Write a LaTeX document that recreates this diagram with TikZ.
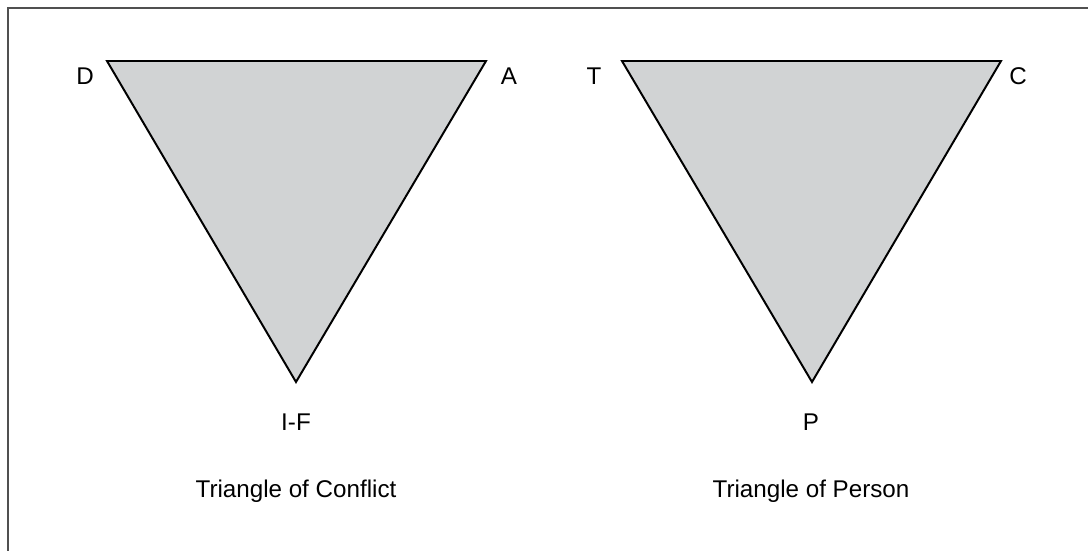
\documentclass[tikz,border=0pt]{standalone}
\usepackage{fontspec}
\setmainfont{Liberation Sans}
\begin{document}
\begin{tikzpicture}[x=0.025cm, y=-0.025cm, font=\fontsize{17.2}{20}\selectfont]
	% Farben
	\definecolor{trigray}{RGB}{209, 211, 212}
	\definecolor{framegray}{RGB}{80, 80, 80}
	
	% Stile
	\tikzset{
		tri/.style={fill=trigray, draw=black, line width=1.4pt, line join=miter},
		lbl/.style={anchor=base, inner sep=0pt},
	}
	
	% Bildgröße
	\useasboundingbox (0,0) rectangle (1088,551);
	
	% Rahmen (nur oben und links)
	\draw[framegray, line width=1.4pt] (1088,8) -- (8,8) -- (8,551);
	
	% Ecken der Dreiecke
	\coordinate (D) at (107,61);
	\coordinate (A) at (486,61);
	\coordinate (IF) at (296,382);
	\coordinate (T) at (622,61);
	\coordinate (C) at (1001,61);
	\coordinate (P) at (812,382);
	
	% Dreiecke
	\draw[tri] (D) -- (A) -- (IF) -- cycle;
	\draw[tri] (T) -- (C) -- (P) -- cycle;
	
	% Beschriftung der Ecken
	\node[lbl] (lD) at (85,85) {D};
	\node[lbl] (lA) at (509,85) {A};
	\node[lbl] (lIF) at (296,431) {I-F};
	\node[lbl] (lT) at (594,85) {T};
	\node[lbl] (lC) at (1018,85) {C};
	\node[lbl] (lP) at (811,431) {P};
	
	% Unterschriften
	\node[lbl] (conflict) at (296,497) {Triangle of Conflict};
	\node[lbl] (person) at (811,497) {Triangle of Person};
\end{tikzpicture}
\end{document}
